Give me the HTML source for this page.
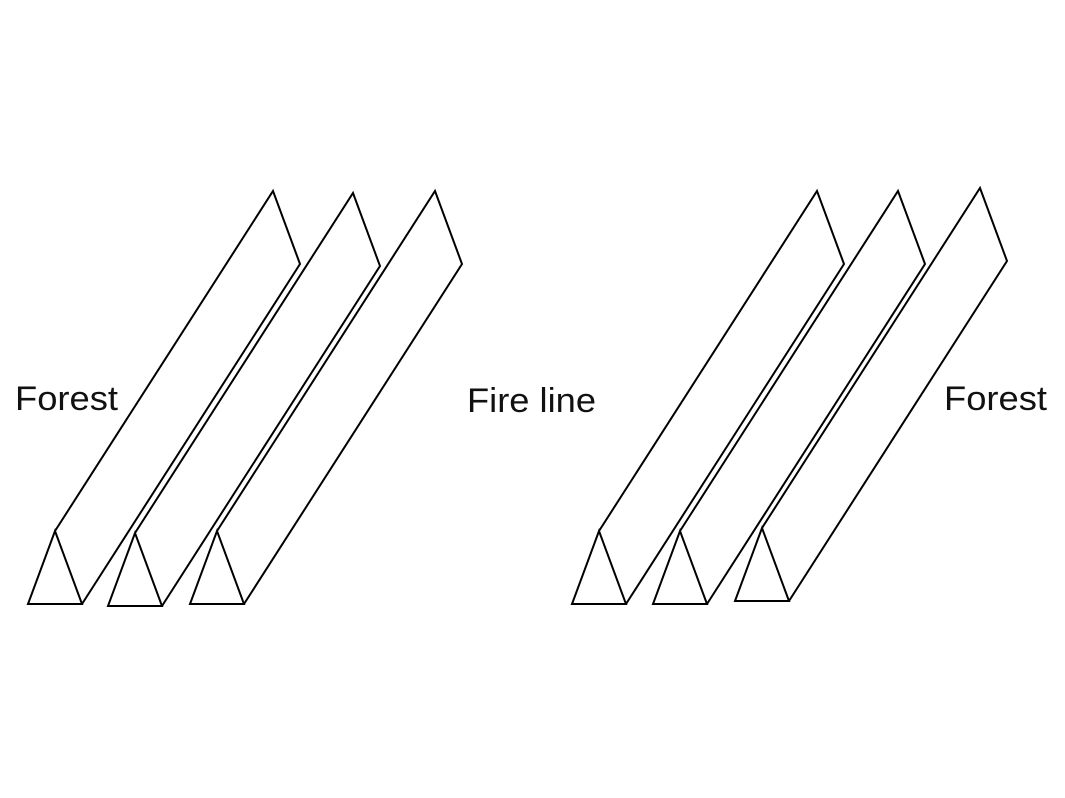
<!DOCTYPE html>
<html><head><meta charset="utf-8"><style>
html,body{margin:0;padding:0;background:#fff;}
svg{display:block;}
text{font-family:"Liberation Sans",sans-serif;font-size:34px;fill:#111;}
</style></head><body>
<svg width="1065" height="798" viewBox="0 0 1065 798">
<g id="prisms" fill="none" stroke="#000" stroke-width="2" stroke-linejoin="miter"></g>
<text x="15" y="410" textLength="103" lengthAdjust="spacingAndGlyphs">Forest</text>
<text x="467" y="412" textLength="129" lengthAdjust="spacingAndGlyphs">Fire line</text>
<text x="944" y="410" textLength="103" lengthAdjust="spacingAndGlyphs">Forest</text>
</svg>
<script>
const baseX=[28,108,190,572,653,735];
const baseY=[604,606,604,604,604,601];
const W=54,H=73,DX=218,DY=340,TW=27,TH=73;
const g=document.getElementById('prisms');
baseX.forEach((x,i)=>{
  const y=baseY[i];
  const ax=x+W/2, ay=y-H;
  const tx=ax+DX, ty=ay-DY;
  const p=document.createElementNS('http://www.w3.org/2000/svg','path');
  p.setAttribute('d',`M${x},${y} L${x+W},${y} L${ax},${ay} Z M${ax},${ay} L${tx},${ty} L${tx+TW},${ty+TH} L${x+W},${y}`);
  
  
  g.appendChild(p);
});
</script>
</body></html>
